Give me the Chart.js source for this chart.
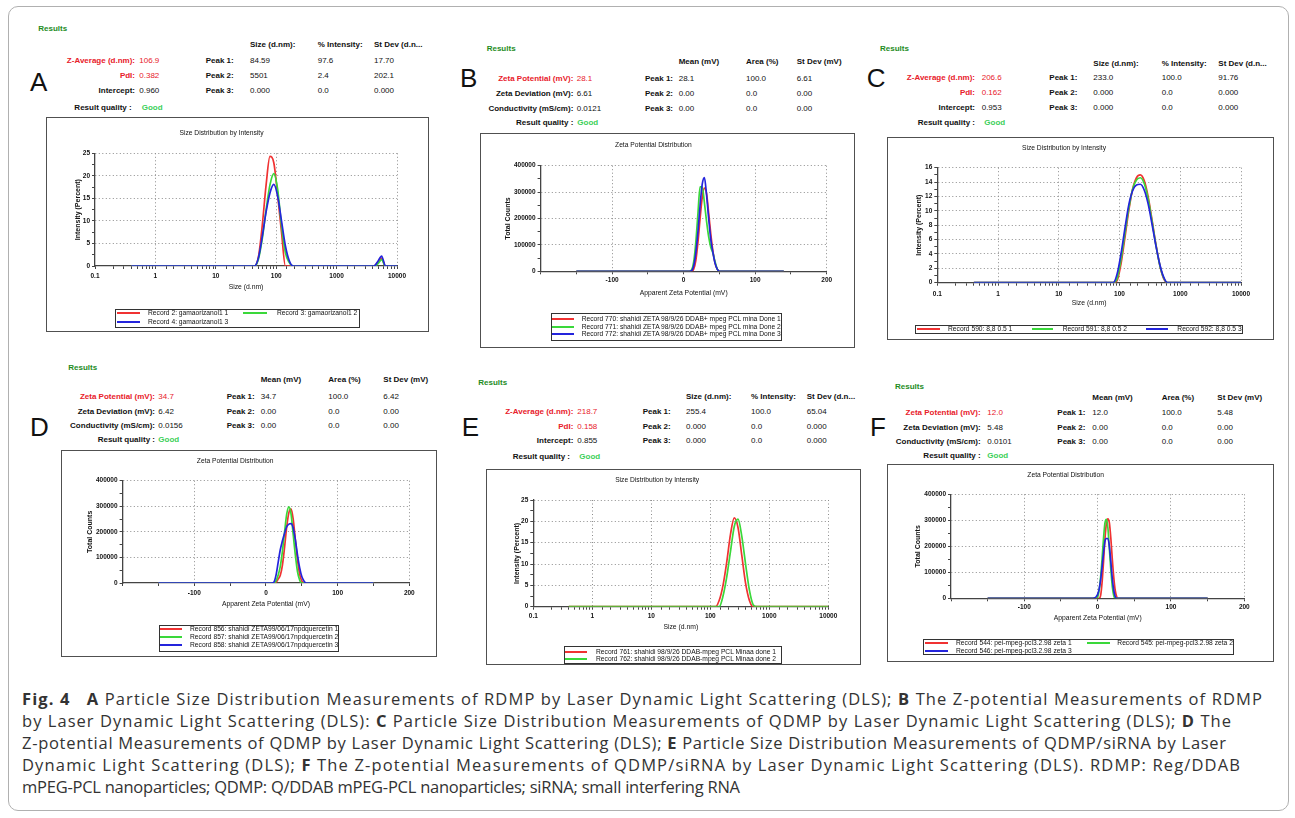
<!DOCTYPE html>
<html><head><meta charset="utf-8">
<script src="https://cdn.jsdelivr.net/npm/chart.js@4.4.1/dist/chart.umd.min.js"></script>
<style>
html,body{margin:0;padding:0;background:#fff;}
body{width:1295px;height:818px;position:relative;overflow:hidden;font-family:"Liberation Sans",Arial,sans-serif;}
.frame{position:absolute;left:8px;top:6px;width:1281px;height:805px;border:1px solid #b0b0b0;border-radius:10px;box-sizing:border-box;}
.t{position:absolute;font-size:8px;line-height:10px;white-space:nowrap;color:#111;}
.b{font-weight:bold;}
.r{color:#e8202a;}
.res{color:#1e8c1e;font-weight:bold;}
.good{color:#3ccf5a;font-weight:bold;}
.big{font-size:26px;line-height:26px;}
.li{font-size:6.7px;line-height:8px;}
.box{position:absolute;border:1.5px solid #505050;box-sizing:border-box;pointer-events:none;}
canvas{position:absolute;}
.leg{position:absolute;border:1px solid #333;box-sizing:border-box;}
.sw{position:absolute;height:2px;}
.cap{position:absolute;left:22px;top:687.8px;font-family:"Open Sans",sans-serif;font-size:16.5px;line-height:22px;color:#333;white-space:nowrap;}
.cap .ln{display:inline-block;}
</style></head>
<body>
<div class="frame"></div>
<div class="cap"><span class="ln" data-r="1262"><b>Fig. 4</b>&nbsp;&nbsp;&nbsp;<b>A</b> Particle Size Distribution Measurements of RDMP by Laser Dynamic Light Scattering (DLS); <b>B</b> The Z-potential Measurements of RDMP</span><br><span class="ln" data-r="1231">by Laser Dynamic Light Scattering (DLS): <b>C</b> Particle Size Distribution Measurements of QDMP by Laser Dynamic Light Scattering (DLS); <b>D</b> The</span><br><span class="ln" data-r="1226">Z-potential Measurements of QDMP by Laser Dynamic Light Scattering (DLS); <b>E</b> Particle Size Distribution Measurements of QDMP/siRNA by Laser</span><br><span class="ln" data-r="1240">Dynamic Light Scattering (DLS); <b>F</b> The Z-potential Measurements of QDMP/siRNA by Laser Dynamic Light Scattering (DLS). RDMP: Reg/DDAB</span><br><span class="ln" data-r="740">mPEG-PCL nanoparticles; QDMP: Q/DDAB mPEG-PCL nanoparticles; siRNA; small interfering RNA</span></div>
<script>
// ---------- DATA ----------
// Panel A (size, d.nm)
const sizeA  = [0.4, 37.84, 43.82, 50.75, 58.77, 68.06, 78.82, 91.28, 105.7, 122.4, 141.8, 164.2, 190.1, 220.2, 4145, 4801, 5560, 6439, 7456, 10000];
const redA   = [0, 0, 0, 2.0, 9.0, 18.0, 24.3, 22.9, 15.7, 7.5, 0, 0, 0, 0, 0, 0.8, 1.7, 0, 0, 0];
const greenA = [0, 0, 0, 1.5, 6.0, 12.5, 18.0, 20.5, 17.0, 9.0, 3.0, 0.8, 0, 0, 0, 0.5, 1.4, 0, 0, 0];
const blueA  = [0, 0, 0, 1.8, 6.5, 12.0, 16.2, 18.1, 15.5, 10.0, 4.5, 1.2, 0, 0, 0, 1.0, 2.2, 0, 0, 0];
const legendA = ["Record 2: gamaorizanol1 1", "Record 3: gamaorizanol1 2", "Record 4: gamaorizanol1 3"];

// Panel B (zeta, mV)
const mvB    = [-150, 5, 8, 11, 14, 17, 20, 23, 26, 29, 32, 35, 38, 41, 44, 47, 50, 53, 140];
const redB   = [0, 0, 0, 0, 8000, 40000, 110000, 200000, 280000, 315000, 295000, 220000, 140000, 75000, 30000, 8000, 0, 0, 0];
const greenB = [0, 0, 0, 5000, 35000, 110000, 220000, 320000, 320000, 260000, 190000, 130000, 90000, 68000, 35000, 8000, 0, 0, 0];
const blueB  = [0, 0, 0, 2000, 20000, 70000, 150000, 250000, 330000, 355000, 290000, 200000, 120000, 70000, 30000, 8000, 0, 0, 0];
const legendB = ["Record 770: shahidi ZETA  98/9/26 DDAB+ mpeg PCL mina Done 1", "Record 771: shahidi ZETA  98/9/26 DDAB+ mpeg PCL mina Done 2", "Record 772: shahidi ZETA  98/9/26 DDAB+ mpeg PCL mina Done 3"];

// Panel C (size)
const sizeC  = [0.4, 78.82, 91.28, 105.7, 122.4, 141.8, 164.2, 190.1, 220.2, 255.0, 295.3, 342.0, 396.1, 458.7, 531.2, 615.1, 712.4, 10000];
const redC   = [0, 0, 0.3, 2.6, 6.2, 10.0, 13.0, 14.6, 15.0, 14.2, 12.0, 8.8, 5.4, 2.5, 0.6, 0, 0, 0];
const greenC = [0, 0, 0.6, 3.2, 6.8, 10.3, 13.0, 14.3, 14.6, 13.8, 11.7, 8.6, 5.3, 2.5, 0.7, 0, 0, 0];
const blueC  = [0, 0, 1.2, 4.0, 7.5, 10.8, 12.8, 13.6, 13.7, 12.9, 11.0, 8.2, 5.2, 2.6, 0.8, 0, 0, 0];
const legendC = ["Record 590: 8,8 0.5 1", "Record 591: 8,8 0.5 2", "Record 592: 8,8 0.5 3"];

// Panel D (zeta)
const mvD    = [-150, 8, 11, 14, 17, 20, 23, 26, 29, 32, 35, 38, 41, 44, 47, 50, 53, 56, 59, 150];
const redD   = [0, 0, 0, 3000, 15000, 30000, 70000, 140000, 220000, 275000, 290000, 250000, 170000, 90000, 35000, 8000, 0, 0, 0, 0];
const greenD = [0, 0, 0, 8000, 30000, 65000, 125000, 200000, 270000, 298000, 270000, 190000, 110000, 45000, 12000, 0, 0, 0, 0, 0];
const blueD  = [0, 0, 3000, 30000, 80000, 130000, 165000, 195000, 220000, 230000, 232000, 215000, 170000, 110000, 60000, 25000, 8000, 0, 0, 0];
const legendD = ["Record 856: shahidi ZETA99/06/17npdquercetin 1", "Record 857: shahidi ZETA99/06/17npdquercetin 2", "Record 858: shahidi ZETA99/06/17npdquercetin 3"];

// Panel E (size)
const sizeE  = [0.4, 105.7, 122.4, 141.8, 164.2, 190.1, 220.2, 255.0, 295.3, 342.0, 396.1, 458.7, 531.2, 615.1, 10000];
const redE   = [0, 0, 0, 1.5, 5.0, 10.5, 17.0, 20.8, 18.5, 12.0, 5.5, 1.5, 0, 0, 0];
const greenE = [0, 0, 0, 0, 2.5, 7.0, 13.0, 18.8, 20.5, 16.5, 10.0, 4.0, 0.5, 0, 0];
const legendE = ["Record 761: shahidi  98/9/26 DDAB-mpeg PCL Minaa done 1", "Record 762: shahidi  98/9/26 DDAB-mpeg PCL Minaa done 2"];

// Panel F (zeta)
const mvF    = [-150, -8, -6, -4, -2, 0, 2, 4, 6, 8, 10, 12, 14, 16, 18, 20, 22, 24, 26, 28, 30, 150];
const redF   = [0, 0, 0, 0, 0, 0, 0, 10000, 60000, 140000, 230000, 290000, 306000, 290000, 230000, 150000, 80000, 30000, 6000, 0, 0, 0];
const greenF = [0, 0, 0, 0, 0, 5000, 30000, 80000, 150000, 230000, 290000, 304000, 270000, 190000, 110000, 45000, 10000, 0, 0, 0, 0, 0];
const blueF  = [0, 0, 0, 2000, 6000, 15000, 35000, 70000, 120000, 175000, 220000, 230000, 230000, 200000, 140000, 75000, 30000, 6000, 0, 0, 0, 0];
const legendF = ["Record 544: pei-mpeg-pcl3.2.98 zeta 1", "Record 545: pei-mpeg-pcl3.2.98 zeta 2", "Record 546: pei-mpeg-pcl3.2.98 zeta 3"];

// axis tick labels
const sizeTicks = [0.1, 1, 10, 100, 1000, 10000];
const zetaTicks = [-100, 0, 100, 200];

const RED = '#f03232', GREEN = '#3ad83a', BLUE = '#2424dc';

// ---------- caption line fitting (style only) ----------
document.querySelectorAll('.cap .ln').forEach(sp => {
  const target = parseFloat(sp.dataset.r) - 22;
  const w = sp.getBoundingClientRect().width;
  const n = sp.textContent.length;
  const ls = Math.max(-0.3, Math.min(1.2, (target - w) / Math.max(1, n - 1)));
  sp.style.letterSpacing = ls.toFixed(3) + 'px';
});

// ---------- helpers ----------
function txt(x, y, s, cls, right, lh) {
  lh = lh || 10;
  const e = document.createElement('div');
  e.className = 't ' + (cls || '');
  e.textContent = s;
  e.style.top = (y - lh / 2) + 'px';
  if (right) e.style.right = (1295 - x) + 'px'; else e.style.left = x + 'px';
  document.body.appendChild(e);
  return e;
}

function table(p) {
  txt(p.res[0], p.res[1], 'Results', 'res');
  txt(p.letter[1], p.letter[2], p.letter[0], 'big', false, 26);
  p.hx.forEach((x, i) => txt(x, p.hy, p.hl[i], 'b'));
  p.ry.forEach((y, i) => {
    const red = p.red.indexOf(i) >= 0;
    txt(p.labR, y, p.labs[i], 'b' + (red ? ' r' : ''), true);
    txt(p.valX, y, p.vals[i], red ? 'r' : '');
    txt(p.peakX, y, 'Peak ' + (i + 1) + ':', 'b');
    p.hx.forEach((x, j) => txt(x, y, p.peaks[i][j], ''));
  });
  txt(p.qLabR, p.qy, 'Result quality :', 'b', true);
  txt(p.goodX, p.qy, 'Good', 'good');
}

function legend(box, items) {
  const d = document.createElement('div');
  d.className = 'leg';
  d.style.left = box[0] + 'px'; d.style.top = box[1] + 'px';
  d.style.width = (box[2] - box[0]) + 'px'; d.style.height = (box[3] - box[1]) + 'px';
  document.body.appendChild(d);
  items.forEach(it => {
    const s = document.createElement('div');
    s.className = 'sw';
    s.style.left = it[0] + 'px'; s.style.width = (it[1] - it[0]) + 'px';
    s.style.top = (it[3] - 1) + 'px'; s.style.background = it[4];
    document.body.appendChild(s);
    txt(it[2], it[3], it[5], 'li', false, 8);
  });
}

function isDecade(v) { const l = Math.log10(v); return Math.abs(l - Math.round(l)) < 1e-6; }
function nearIn(v, arr) { return arr.some(a => Math.abs(a - v) < 1e-6 * Math.max(1, Math.abs(a))); }

Chart.defaults.font.family = '"Liberation Sans", Arial, sans-serif';
Chart.defaults.color = '#111';

const GRID = '#8c8c8c', AX = '#444', NONE = 'rgba(0,0,0,0)';

function buildChart(g, kind, title, xs, series, colors, labels) {
  const cv = document.createElement('canvas');
  cv.width = g.bw; cv.height = g.bh;
  cv.style.left = g.bx + 'px'; cv.style.top = g.by + 'px';
  document.body.appendChild(cv);
  const bx = document.createElement('div');
  bx.className = 'box';
  bx.style.left = g.bx + 'px'; bx.style.top = g.by + 'px';
  bx.style.width = g.bw + 'px'; bx.style.height = g.bh + 'px';
  document.body.appendChild(bx);

  const XH = 34, tl = 3;
  const tF = 6.7, tLH = tF * 1.2;
  const tTop = g.titleY - g.by - tLH / 2;
  const tBot = (g.pt - g.by) - tTop - tLH;
  const kF = 6.5, kLH = kF * 1.2;
  const xPad = (g.xlabY - g.pb) - tl - kLH / 2;
  const axF = 6.8, axLH = axF * 1.2;
  const xtb = XH - axLH / 2 - (g.xTitleY - g.pb);
  const ytp = (g.yTitleX - g.bx) - 7 * 1.2 / 2;
  const YW = g.pl - g.bx;

  const size = kind === 'size';
  const n = series.length;
  const datasets = series.map((ys, i) => ({
    label: labels[i],
    data: xs.map((x, j) => ({ x: x, y: ys[j] })),
    borderColor: colors[i], backgroundColor: colors[i],
    borderWidth: 1.7, pointRadius: 0, fill: false,
    cubicInterpolationMode: 'monotone', order: n - i
  }));

  const xScale = size ? {
    type: 'logarithmic', min: 0.1, max: 10000,
    ticks: { autoSkip: false, maxRotation: 0, padding: xPad, font: { size: kF, weight: 'bold' }, color: '#111',
      callback: v => nearIn(v, sizeTicks) ? (v < 1 ? '0.1' : String(Math.round(v))) : '' },
    grid: { color: c => (isDecade(c.tick.value) && c.tick.value > 0.11) ? GRID : NONE, tickColor: AX, tickLength: tl, lineWidth: 1 },
    title: { display: true, text: 'Size (d.nm)', font: { size: axF }, color: '#111', padding: { top: 0, bottom: xtb } }
  } : {
    type: 'linear', min: -200, max: 200,
    ticks: { stepSize: 50, autoSkip: false, maxRotation: 0, padding: xPad, font: { size: kF, weight: 'bold' }, color: '#111',
      callback: v => nearIn(v, zetaTicks) ? String(v) : '' },
    grid: { color: c => (nearIn(c.tick.value, zetaTicks)) ? GRID : NONE, tickColor: AX, tickLength: tl, lineWidth: 1 },
    title: { display: true, text: 'Apparent Zeta Potential (mV)', font: { size: axF }, color: '#111', padding: { top: 0, bottom: xtb } }
  };
  xScale.border = { display: true, color: AX, width: 1.3, dash: [1, 2.5] };
  xScale.afterFit = s => { s.height = XH; };

  const yMax = g.yMax, yStep = g.yStep, yLab = g.yLab;
  const yScale = {
    type: 'linear', min: 0, max: yMax,
    ticks: { stepSize: yStep, autoSkip: false, padding: 2, font: { size: kF, weight: 'bold' }, color: '#111',
      callback: v => (Math.abs(v / yLab - Math.round(v / yLab)) < 1e-6) ? String(v) : '' },
    grid: { color: c => (c.tick.value > 0 && Math.abs(c.tick.value / yLab - Math.round(c.tick.value / yLab)) < 1e-6) ? GRID : NONE,
      tickColor: AX, tickLength: tl, lineWidth: 1 },
    border: { display: true, color: AX, width: 1.3, dash: [1, 2.5] },
    title: { display: true, text: size ? 'Intensity (Percent)' : 'Total Counts', font: { size: 7, weight: 'bold' }, color: '#111', padding: { top: ytp, bottom: 0 } },
    afterFit: s => { s.width = YW; }
  };

  new Chart(cv, {
    type: 'line',
    data: { datasets: datasets },
    options: {
      responsive: false, animation: false, devicePixelRatio: 1,
      layout: { padding: { left: 0, top: 0, right: (g.bx + g.bw) - g.pr, bottom: (g.by + g.bh) - g.pb - XH } },
      plugins: {
        legend: { display: false }, tooltip: { enabled: false },
        title: { display: true, text: title, font: { size: tF, weight: 'normal' }, color: '#111', padding: { top: tTop, bottom: tBot } }
      },
      scales: { x: xScale, y: yScale }
    }
  });
}

// ---------- tables ----------
const sizeHdr = ['Size (d.nm):', '% Intensity:', 'St Dev (d.n...'];
const zetaHdr = ['Mean (mV)', 'Area (%)', 'St Dev (mV)'];
const sizeLabs = ['Z-Average (d.nm):', 'PdI:', 'Intercept:'];
const zetaLabs = ['Zeta Potential (mV):', 'Zeta Deviation (mV):', 'Conductivity (mS/cm):'];

table({ res: [38.3, 29.3], letter: ['A', 30, 81.7], hy: 45, hx: [250, 317.7, 374], hl: sizeHdr, ry: [60.7, 76, 91], qy: 107.7,
  labR: 135, valX: 139.3, peakX: 205.7, labs: sizeLabs, vals: ['106.9', '0.382', '0.960'], red: [0, 1],
  peaks: [['84.59', '97.6', '17.70'], ['5501', '2.4', '202.1'], ['0.000', '0.0', '0.000']], qLabR: 131.7, goodX: 141.7 });
table({ res: [486.7, 49], letter: ['B', 460, 78.3], hy: 61.7, hx: [678.7, 746, 796.7], hl: zetaHdr, ry: [79, 94.3, 109], qy: 123.3,
  labR: 573.3, valX: 576.7, peakX: 645, labs: zetaLabs, vals: ['28.1', '6.61', '0.0121'], red: [0],
  peaks: [['28.1', '100.0', '6.61'], ['0.00', '0.0', '0.00'], ['0.00', '0.0', '0.00']], qLabR: 573.3, goodX: 577.3 });
table({ res: [880, 49], letter: ['C', 866.7, 78.3], hy: 64, hx: [1093.3, 1161.7, 1218.3], hl: sizeHdr, ry: [78.3, 93.3, 108.3], qy: 123.3,
  labR: 975, valX: 981.7, peakX: 1049.3, labs: sizeLabs, vals: ['206.6', '0.162', '0.953'], red: [0, 1],
  peaks: [['233.0', '100.0', '91.76'], ['0.000', '0.0', '0.000'], ['0.000', '0.0', '0.000']], qLabR: 975, goodX: 984.3 });
table({ res: [68.3, 367.7], letter: ['D', 30, 426.7], hy: 380, hx: [260.7, 328.3, 383.3], hl: zetaHdr, ry: [396.7, 411.7, 426], qy: 440,
  labR: 155, valX: 158.3, peakX: 226.7, labs: zetaLabs, vals: ['34.7', '6.42', '0.0156'], red: [0],
  peaks: [['34.7', '100.0', '6.42'], ['0.00', '0.0', '0.00'], ['0.00', '0.0', '0.00']], qLabR: 155, goodX: 158.3 });
table({ res: [478.3, 382.7], letter: ['E', 461.7, 426.7], hy: 397.3, hx: [686, 751, 806.7], hl: sizeHdr, ry: [412, 426.7, 441], qy: 456.7,
  labR: 573.3, valX: 577.3, peakX: 642.7, labs: sizeLabs, vals: ['218.7', '0.158', '0.855'], red: [0, 1],
  peaks: [['255.4', '100.0', '65.04'], ['0.000', '0.0', '0.000'], ['0.000', '0.0', '0.000']], qLabR: 570, goodX: 579.3 });
table({ res: [895, 386.7], letter: ['F', 870, 426.7], hy: 398.3, hx: [1092.3, 1161.7, 1217.3], hl: zetaHdr, ry: [413.3, 428.3, 441.7], qy: 455.7,
  labR: 980.7, valX: 987.3, peakX: 1057.3, labs: zetaLabs, vals: ['12.0', '5.48', '0.0101'], red: [0],
  peaks: [['12.0', '100.0', '5.48'], ['0.00', '0.0', '0.00'], ['0.00', '0.0', '0.00']], qLabR: 980.7, goodX: 987.3 });

// ---------- charts ----------
const SZ = 'Size Distribution by Intensity', ZP = 'Zeta Potential Distribution';
buildChart({ bx: 46, by: 117, bw: 383, bh: 215, pl: 95, pr: 397, pt: 153.3, pb: 266, titleY: 132.7, xlabY: 276, xTitleY: 286.7, yTitleX: 77.7, yMax: 25, yStep: 2.5, yLab: 5 },
  'size', SZ, sizeA, [redA, greenA, blueA], [RED, GREEN, BLUE], legendA);
buildChart({ bx: 480, by: 133, bw: 375, bh: 215, pl: 540.6, pr: 826.7, pt: 165.7, pb: 271.3, titleY: 145, xlabY: 280.7, xTitleY: 293.3, yTitleX: 508.3, yMax: 400000, yStep: 50000, yLab: 100000 },
  'zeta', ZP, mvB, [redB, greenB, blueB], [RED, GREEN, BLUE], legendB);
buildChart({ bx: 887, by: 137, bw: 387, bh: 203, pl: 937.3, pr: 1241, pt: 167.7, pb: 282.7, titleY: 147.7, xlabY: 294, xTitleY: 302.7, yTitleX: 919.3, yMax: 16, yStep: 1, yLab: 2 },
  'size', SZ, sizeC, [redC, greenC, blueC], [RED, GREEN, BLUE], legendC);
buildChart({ bx: 61, by: 450, bw: 376, bh: 207, pl: 122.6, pr: 409.3, pt: 480.7, pb: 583, titleY: 460.7, xlabY: 593.3, xTitleY: 604.3, yTitleX: 90, yMax: 400000, yStep: 50000, yLab: 100000 },
  'zeta', ZP, mvD, [redD, greenD, blueD], [RED, GREEN, BLUE], legendD);
buildChart({ bx: 486, by: 469, bw: 375, bh: 196, pl: 533.3, pr: 828.3, pt: 500, pb: 606.7, titleY: 480, xlabY: 616.7, xTitleY: 626.7, yTitleX: 516.7, yMax: 25, yStep: 2.5, yLab: 5 },
  'size', SZ, sizeE, [redE, greenE], [RED, GREEN], legendE);
buildChart({ bx: 887, by: 464, bw: 387, bh: 198, pl: 951, pr: 1244.3, pt: 494.3, pb: 598.3, titleY: 475, xlabY: 607.3, xTitleY: 618.3, yTitleX: 917.7, yMax: 400000, yStep: 50000, yLab: 100000 },
  'zeta', ZP, mvF, [redF, greenF, blueF], [RED, GREEN, BLUE], legendF);

// ---------- legends ----------
legend([115, 309, 360, 327.5], [[117, 140, 148, 313.3, RED, legendA[0]], [243, 267, 277, 313.3, GREEN, legendA[1]], [117, 140, 148, 321.7, BLUE, legendA[2]]]);
legend([551, 312.7, 782, 340.7], [[552, 574, 581.7, 319.3, RED, legendB[0]], [552, 574, 581.7, 326.7, GREEN, legendB[1]], [552, 574, 581.7, 334, BLUE, legendB[2]]]);
legend([915, 325, 1243, 333.5], [[917, 940, 948, 329.3, RED, legendC[0]], [1032, 1053, 1062.7, 329.3, GREEN, legendC[1]], [1146, 1168, 1177.3, 329.3, BLUE, legendC[2]]]);
legend([159, 625, 339, 652.3], [[160, 181.7, 190, 629.3, RED, legendD[0]], [160, 181.7, 190, 637.3, GREEN, legendD[1]], [160, 181.7, 190, 645.3, BLUE, legendD[2]]]);
legend([564, 645.7, 782, 664], [[565, 587, 596, 651.7, RED, legendE[0]], [565, 587, 596, 659.3, GREEN, legendE[1]]]);
legend([923, 639, 1234, 655], [[925, 948, 956, 643.3, RED, legendF[0]], [1087, 1110, 1117.3, 643.3, GREEN, legendF[1]], [925, 948, 956, 651, BLUE, legendF[2]]]);
</script>
</body></html>
